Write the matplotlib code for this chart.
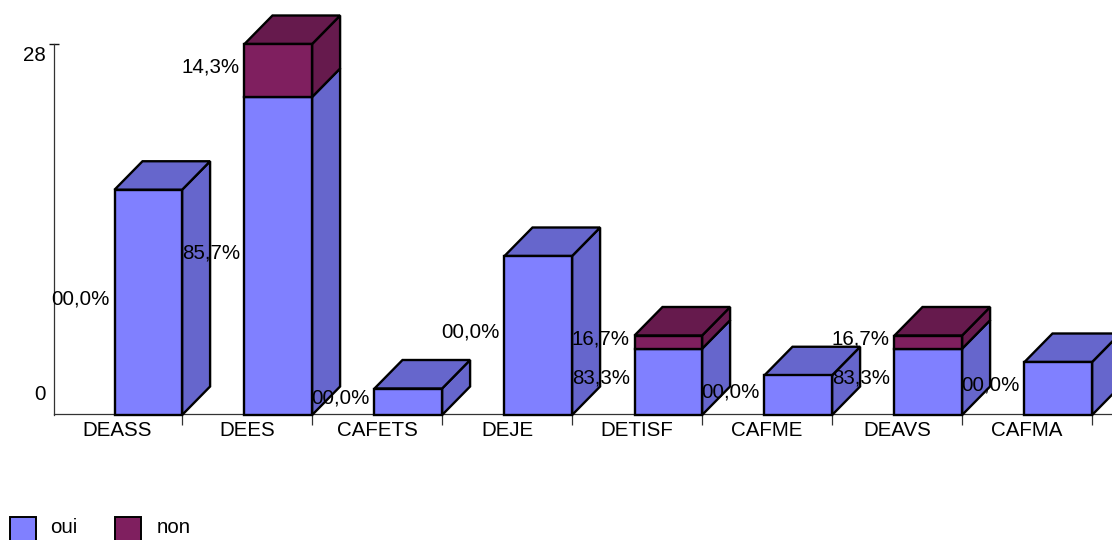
import matplotlib
matplotlib.use("Agg")
import numpy as np
import matplotlib.pyplot as plt
from matplotlib.patches import Polygon, Rectangle

plt.rcParams['font.family'] = ['Liberation Sans', 'DejaVu Sans']

# Data
categories = ["DEASS", "DEES", "CAFETS", "DEJE", "DETISF", "CAFME", "DEAVS", "CAFMA"]
oui = [17, 24, 2, 12, 5, 3, 5, 4]
non = [0, 4, 0, 0, 1, 0, 1, 0]
oui_labels = ["00,0%", "85,7%", "00,0%", "00,0%", "83,3%", "00,0%", "83,3%", "00,0%"]
non_labels = ["", "14,3%", "", "", "16,7%", "", "16,7%", ""]
y_ticks = [0, 28]

W, H = 1112, 540
FS = 14.8
OUI_FRONT, OUI_SIDE = "#8080FF", "#6666CC"
NON_FRONT, NON_SIDE = "#7F1F5F", "#661A4D"

fig = plt.figure(figsize=(W / 100, H / 100), dpi=100)
ax = fig.add_axes([54 / W, 1 - 415 / H, (W - 54) / W, 371 / H])

# one category is 130 px wide, one value is 13.25 px high
ax.set_xlim(1.9 / 130, 1059.9 / 130)
ax.set_ylim(0, 28)
bar_w = 67.6 / 130
dx, dy = 28 / 130, 28.5 / 13.25


def draw_box(left, bottom, height, front, side, with_top):
    right = left + bar_w
    top = bottom + height
    # side face
    ax.add_patch(Polygon([(right, bottom), (right + dx, bottom + dy), (right + dx, top + dy), (right, top)],
                         fc=side, ec="black", lw=1.7, clip_on=False, zorder=3, joinstyle="miter"))
    # top face
    if with_top:
        ax.add_patch(Polygon([(left, top), (left + dx, top + dy), (right + dx, top + dy), (right, top)],
                             fc=side, ec="black", lw=1.7, clip_on=False, zorder=3, joinstyle="miter"))
    # front face
    ax.bar(left, height, width=bar_w, bottom=bottom, align="edge", color=front,
           edgecolor="black", linewidth=1.7, clip_on=False, zorder=4)


for i in range(len(categories)):
    left = i + 1 - bar_w
    draw_box(left, 0, oui[i], OUI_FRONT, OUI_SIDE, non[i] == 0)
    if non[i] > 0:
        draw_box(left, oui[i], non[i], NON_FRONT, NON_SIDE, True)

# Percent labels, right aligned just left of the bars
for i in range(len(categories)):
    left = i + 1 - bar_w
    ax.annotate(oui_labels[i], (left, oui[i] / 2), xytext=(-3.3, 2.5), textcoords="offset points",
                ha="right", va="center", fontsize=FS, color="black", zorder=6, annotation_clip=False)
    if non_labels[i]:
        ax.annotate(non_labels[i], (left, oui[i] + non[i] / 2), xytext=(-3.3, 2.5), textcoords="offset points",
                    ha="right", va="center", fontsize=FS, color="black", zorder=6, annotation_clip=False)

# Axes
for s in ["top", "right"]:
    ax.spines[s].set_visible(False)
ax.spines["left"].set_color("#333333")
ax.spines["bottom"].set_color("#333333")
ax.spines["left"].set_linewidth(0.9)
ax.spines["bottom"].set_linewidth(0.9)
ax.spines["bottom"].set_position(("outward", -0.7))

ax.set_xticks(np.arange(1, len(categories) + 1))
ax.set_xticklabels([])
ax.tick_params(axis="x", which="major", length=8, width=0.9, color="#333333")
ax.set_xticks(np.arange(len(categories)) + 0.5, minor=True)
ax.set_xticklabels(categories, minor=True, fontsize=FS)
ax.tick_params(axis="x", which="minor", length=0, pad=4.7)

ax.set_yticks([28])
ax.set_yticklabels([])
ax.tick_params(axis="y", length=6.5, width=1.0, color="#111111", direction="inout")

# y labels sit off their ticks in the reference
ax.annotate(str(y_ticks[0]), (0, y_ticks[0]), xytext=(-4.5, 15), textcoords="offset points",
            ha="right", va="center", fontsize=FS, annotation_clip=False)
ax.annotate(str(y_ticks[1]), (0, y_ticks[1]), xytext=(-4.5, -8.5), textcoords="offset points",
            ha="right", va="center", fontsize=FS, annotation_clip=False)

# Legend, cut by the bottom edge like the reference
for x0, color, name, tx in [(10, OUI_FRONT, "oui", 50), (115, NON_FRONT, "non", 157)]:
    fig.add_artist(Rectangle((x0 / W, 1 - 544 / H), 26 / W, 27 / H, transform=fig.transFigure,
                             fc=color, ec="black", lw=1.4))
    fig.text(tx / W, 1 - 527.5 / H, name, ha="left", va="center", fontsize=FS)

fig.savefig("out.png", dpi=100)
